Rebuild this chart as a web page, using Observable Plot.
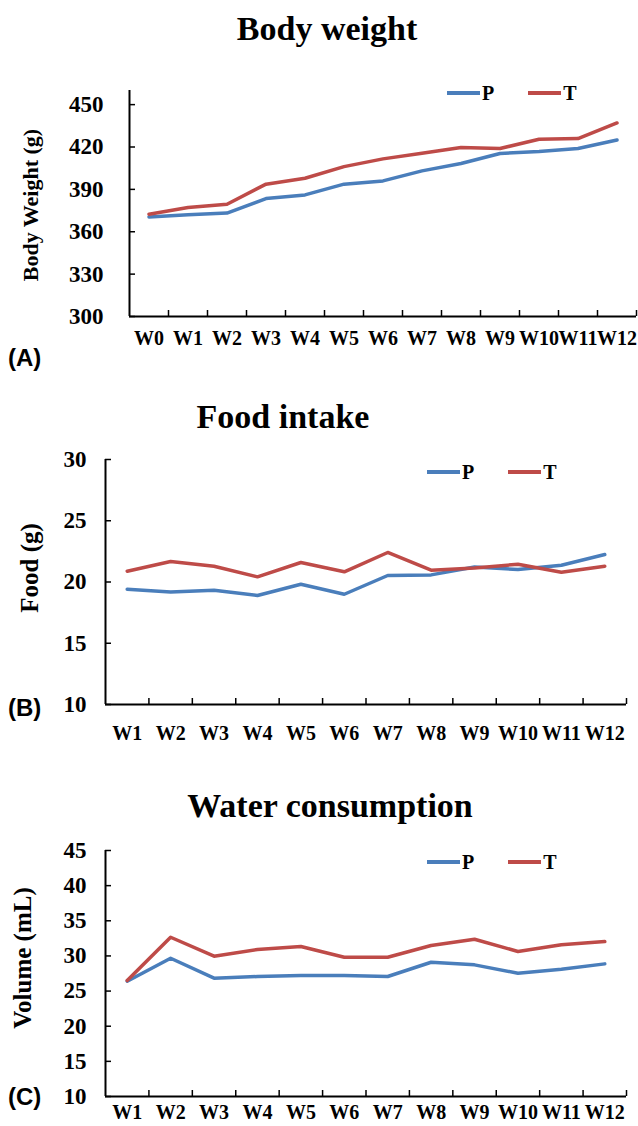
<!DOCTYPE html>
<html><head><meta charset="utf-8">
<script src="https://cdn.jsdelivr.net/npm/d3@7"></script>
<script src="https://cdn.jsdelivr.net/npm/@observablehq/plot@0.6"></script>
<style>
body{margin:0;background:#fff;}
#root{position:relative;width:638px;height:1126px;overflow:hidden;font-family:"Liberation Serif","Times New Roman",serif;color:#000;}
.abs{position:absolute;}
.title{font-weight:bold;font-size:34px;line-height:34px;white-space:nowrap;transform:translateX(-50%);}
.ylab{font-weight:bold;white-space:nowrap;transform:translate(-50%,-50%) rotate(-90deg);line-height:1;}
.panel{font-family:"Liberation Sans",Arial,sans-serif;font-weight:bold;font-size:24px;line-height:24px;transform:translateY(-50%);}
.leg{font-weight:bold;font-size:20px;line-height:20px;display:flex;align-items:center;transform:translateY(-50%);}
.leg span.l{display:inline-block;width:33px;height:3.5px;margin-right:2px;}
</style></head><body><div id="root"></div><script>
// ---- data ----
const weeksA = ["W0","W1","W2","W3","W4","W5","W6","W7","W8","W9","W10","W11","W12"];
const bodyP = [370.5,372.0,373.2,383.5,386.1,393.7,396.0,403.1,408.3,415.4,416.8,418.9,425.0];
const bodyT = [372.4,377.1,379.5,393.7,397.9,406.1,411.6,415.6,419.6,418.9,425.5,426.0,437.0];
const weeksBC = ["W1","W2","W3","W4","W5","W6","W7","W8","W9","W10","W11","W12"];
const foodP = [19.41,19.19,19.33,18.90,19.82,19.00,20.53,20.58,21.23,21.02,21.37,22.24];
const foodT = [20.88,21.67,21.29,20.42,21.59,20.83,22.41,20.96,21.15,21.45,20.80,21.29];
const waterP = [26.4,29.67,26.83,27.07,27.21,27.21,27.07,29.10,28.73,27.54,28.11,28.87];
const waterT = [26.5,32.66,29.96,30.91,31.34,29.82,29.82,31.48,32.38,30.63,31.58,32.05];
const yTicksA = [300,330,360,390,420,450];
const yTicksB = [10,15,20,25,30];
const yTicksC = [10,15,20,25,30,35,40,45];
const seriesNames = ["P","T"];
const seriesColors = ["#4a7ebb","#be4b48"];
const titles = ["Body weight","Food intake","Water consumption"];
const yLabels = ["Body Weight (g)","Food (g)","Volume (mL)"];
const panelTags = ["(A)","(B)","(C)"];

const root = document.getElementById("root");
function el(cls, text, css){const d=document.createElement("div");d.className="abs "+cls;if(text!=null)d.textContent=text;Object.assign(d.style,css);root.appendChild(d);return d;}

function panel(cfg){
  const {weeks,P,T,yDomain,yTicks,top,height,ml,mr,mt,mb,ypad,xpad}=cfg;
  const n=weeks.length;
  const data=[];
  weeks.forEach((w,i)=>{data.push({i,series:seriesNames[0],value:P[i]});data.push({i,series:seriesNames[1],value:T[i]});});
  const plotW=638-ml-mr, plotH=height-mt-mb;
  const chart=Plot.plot({
    width:638,height,marginLeft:ml,marginRight:mr,marginTop:mt,marginBottom:mb,
    style:{fontFamily:"'Liberation Serif','Times New Roman',serif",fontWeight:"bold",fontSize:"20px",color:"#000",background:"transparent",overflow:"visible"},
    x:{type:"linear",domain:[-0.5,n-0.5]},
    y:{domain:yDomain},
    color:{domain:seriesNames,range:seriesColors},
    marks:[
      Plot.axisY({ticks:yTicks,tickSize:0,tickPadding:ypad,tickFormat:d=>String(d),label:null,fontSize:23,fontWeight:"bold"}),
      Plot.axisX({ticks:d3.range(n),tickSize:0,tickPadding:xpad,tickFormat:i=>weeks[i],label:null,fontSize:20,fontWeight:"bold"}),
      Plot.tickY(yTicks,{y:d=>d,insetRight:plotW-6,stroke:"#000",strokeWidth:1.5}),
      Plot.tickX(d3.range(n).map(i=>i+0.5),{x:d=>d,insetTop:plotH-6,stroke:"#000",strokeWidth:1.5}),
      Plot.ruleX([-0.5],{stroke:"#000",strokeWidth:2}),
      Plot.ruleY([yDomain[0]],{stroke:"#000",strokeWidth:2}),
      Plot.line(data,{x:"i",y:"value",z:"series",stroke:"series",strokeWidth:3.5,strokeLinejoin:"round"})
    ]
  });
  chart.style.position="absolute";chart.style.left="0px";chart.style.top=top+"px";
  root.appendChild(chart);
}

panel({weeks:weeksA,P:bodyP,T:bodyT,yDomain:[300,460],yTicks:yTicksA,top:60,height:300,ml:129,mr:2,mt:30,mb:44,ypad:26,xpad:14});
panel({weeks:weeksBC,P:foodP,T:foodT,yDomain:[10,30],yTicks:yTicksB,top:440,height:300,ml:105,mr:12,mt:19,mb:36,ypad:19,xpad:21});
panel({weeks:weeksBC,P:waterP,T:waterT,yDomain:[10,45],yTicks:yTicksC,top:830,height:296,ml:105,mr:12,mt:20,mb:30,ypad:19,xpad:8});

// titles
el("title",titles[0],{left:"327px",top:"12px"});
el("title",titles[1],{left:"283px",top:"400px"});
el("title",titles[2],{left:"330px",top:"789px"});
// y labels
el("ylab",yLabels[0],{left:"31px",top:"205px",fontSize:"22px"});
el("ylab",yLabels[1],{left:"29px",top:"568px",fontSize:"25px"});
el("ylab",yLabels[2],{left:"22px",top:"958px",fontSize:"25px"});
// panel tags
el("panel",panelTags[0],{left:"8px",top:"358px"});
el("panel",panelTags[1],{left:"8px",top:"708px"});
el("panel",panelTags[2],{left:"8px",top:"1097px"});
// legends
function legend(x,y){
  const d=el("leg",null,{left:x+"px",top:y+"px"});
  seriesNames.forEach((s,k)=>{
    const item=document.createElement("div");item.style.display="flex";item.style.alignItems="center";
    if(k>0)item.style.marginLeft="34px";
    const l=document.createElement("span");l.className="l";l.style.background=seriesColors[k];
    const t=document.createElement("span");t.textContent=s;
    item.appendChild(l);item.appendChild(t);d.appendChild(item);
  });
}
legend(447,93);
legend(427,472);
legend(427,862);
</script></body></html>
